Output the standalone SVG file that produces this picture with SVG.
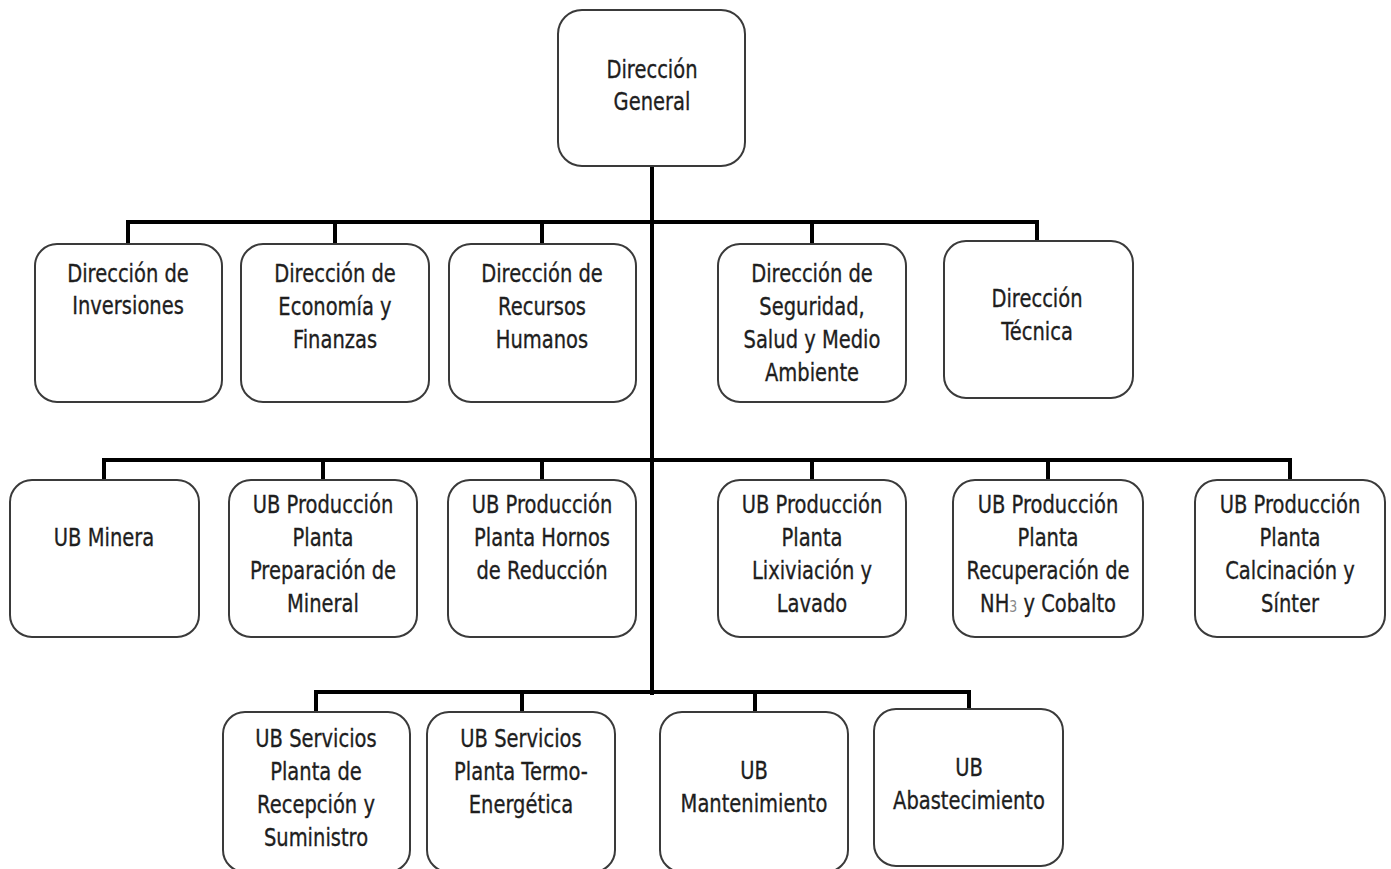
<svg xmlns="http://www.w3.org/2000/svg" width="1391" height="869" viewBox="0 0 1391 869">
<style>
.box{fill:#fff;stroke:#3a3a3a;stroke-width:2}
.t{font-family:"DejaVu Sans","Liberation Sans",sans-serif;font-size:25px;fill:#1e1e1e;stroke:#1e1e1e;stroke-width:0.35;text-anchor:middle}
.c{fill:none;stroke:#000;stroke-width:4;stroke-linecap:square;stroke-linejoin:miter}
</style>
<g id="connectors">
<path class="c" d="M652 167 V693"/>
<path class="c" d="M128 244 V222 H1037 V241 M335 222 V244 M542 222 V244 M812 222 V244"/>
<path class="c" d="M104 480 V460 H1290 V480 M323 460 V480 M542 460 V480 M812 460 V480 M1048 460 V480"/>
<path class="c" d="M316 712 V692 H969 V709 M522 692 V712 M755 692 V712"/>
</g>
<g id="n0"><rect class="box" x="558" y="10" width="187" height="156" rx="24"/>
<text class="t" transform="translate(652 0) scale(0.78 1)"><tspan x="0" y="78">Dirección</tspan><tspan x="0" y="110">General</tspan></text></g>
<g id="n1"><rect class="box" x="35" y="244" width="187" height="158" rx="22"/>
<text class="t" transform="translate(128 0) scale(0.78 1)"><tspan x="0" y="282">Dirección de</tspan><tspan x="0" y="314">Inversiones</tspan></text></g>
<g id="n2"><rect class="box" x="241" y="244" width="188" height="158" rx="22"/>
<text class="t" transform="translate(335 0) scale(0.78 1)"><tspan x="0" y="282">Dirección de</tspan><tspan x="0" y="315">Economía y</tspan><tspan x="0" y="348">Finanzas</tspan></text></g>
<g id="n3"><rect class="box" x="449" y="244" width="187" height="158" rx="22"/>
<text class="t" transform="translate(542 0) scale(0.78 1)"><tspan x="0" y="282">Dirección de</tspan><tspan x="0" y="315">Recursos</tspan><tspan x="0" y="348">Humanos</tspan></text></g>
<g id="n4"><rect class="box" x="718" y="244" width="188" height="158" rx="22"/>
<text class="t" transform="translate(812 0) scale(0.78 1)"><tspan x="0" y="282">Dirección de</tspan><tspan x="0" y="315">Seguridad,</tspan><tspan x="0" y="348">Salud y Medio</tspan><tspan x="0" y="381">Ambiente</tspan></text></g>
<g id="n5"><rect class="box" x="944" y="241" width="189" height="157" rx="22"/>
<text class="t" transform="translate(1037 0) scale(0.78 1)"><tspan x="0" y="307">Dirección</tspan><tspan x="0" y="340">Técnica</tspan></text></g>
<g id="n6"><rect class="box" x="10" y="480" width="189" height="157" rx="22"/>
<text class="t" transform="translate(104 0) scale(0.78 1)"><tspan x="0" y="546">UB Minera</tspan></text></g>
<g id="n7"><rect class="box" x="229" y="480" width="188" height="157" rx="22"/>
<text class="t" transform="translate(323 0) scale(0.78 1)"><tspan x="0" y="513">UB Producción</tspan><tspan x="0" y="546">Planta</tspan><tspan x="0" y="579">Preparación de</tspan><tspan x="0" y="612">Mineral</tspan></text></g>
<g id="n8"><rect class="box" x="448" y="480" width="188" height="157" rx="22"/>
<text class="t" transform="translate(542 0) scale(0.78 1)"><tspan x="0" y="513">UB Producción</tspan><tspan x="0" y="546">Planta Hornos</tspan><tspan x="0" y="579">de Reducción</tspan></text></g>
<g id="n9"><rect class="box" x="718" y="480" width="188" height="157" rx="22"/>
<text class="t" transform="translate(812 0) scale(0.78 1)"><tspan x="0" y="513">UB Producción</tspan><tspan x="0" y="546">Planta</tspan><tspan x="0" y="579">Lixiviación y</tspan><tspan x="0" y="612">Lavado</tspan></text></g>
<g id="n10"><rect class="box" x="953" y="480" width="190" height="157" rx="22"/>
<text class="t" transform="translate(1048 0) scale(0.78 1)"><tspan x="0" y="513">UB Producción</tspan><tspan x="0" y="546">Planta</tspan><tspan x="0" y="579">Recuperación de</tspan><tspan x="0" y="612">NH<tspan font-size="16" fill="#888" stroke="none">3</tspan> y Cobalto</tspan></text></g>
<g id="n11"><rect class="box" x="1195" y="480" width="190" height="157" rx="22"/>
<text class="t" transform="translate(1290 0) scale(0.78 1)"><tspan x="0" y="513">UB Producción</tspan><tspan x="0" y="546">Planta</tspan><tspan x="0" y="579">Calcinación y</tspan><tspan x="0" y="612">Sínter</tspan></text></g>
<g id="n12"><rect class="box" x="223" y="712" width="187" height="160" rx="22"/>
<text class="t" transform="translate(316 0) scale(0.78 1)"><tspan x="0" y="747">UB Servicios</tspan><tspan x="0" y="780">Planta de</tspan><tspan x="0" y="813">Recepción y</tspan><tspan x="0" y="846">Suministro</tspan></text></g>
<g id="n13"><rect class="box" x="427" y="712" width="188" height="160" rx="22"/>
<text class="t" transform="translate(521 0) scale(0.78 1)"><tspan x="0" y="747">UB Servicios</tspan><tspan x="0" y="780">Planta Termo-</tspan><tspan x="0" y="813">Energética</tspan></text></g>
<g id="n14"><rect class="box" x="660" y="712" width="188" height="160" rx="22"/>
<text class="t" transform="translate(754 0) scale(0.78 1)"><tspan x="0" y="779">UB</tspan><tspan x="0" y="812">Mantenimiento</tspan></text></g>
<g id="n15"><rect class="box" x="874" y="709" width="189" height="157" rx="22"/>
<text class="t" transform="translate(969 0) scale(0.78 1)"><tspan x="0" y="776">UB</tspan><tspan x="0" y="809">Abastecimiento</tspan></text></g>
</svg>
